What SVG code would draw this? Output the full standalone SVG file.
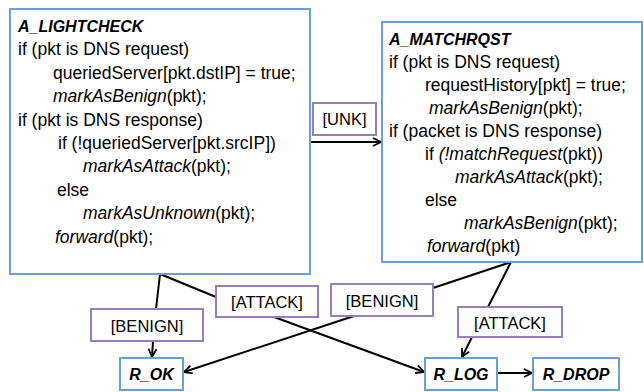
<svg xmlns="http://www.w3.org/2000/svg" width="644" height="392" viewBox="0 0 644 392">
<style>
  .box { fill: #ffffff; stroke: #6a9fd6; stroke-width: 2; }
  .lbl { fill: #ffffff; stroke: #9a7dbd; stroke-width: 2; }
  .code { font-family: "Liberation Sans", Arial, sans-serif; font-size: 17.5px; fill: #000; }
  .title { font-family: "Liberation Sans", Arial, sans-serif; font-size: 16px; font-weight: bold; font-style: italic; fill: #000; }
  .ltxt { font-family: "Liberation Sans", Arial, sans-serif; font-size: 16.5px; fill: #000; text-anchor: middle; }
  .ntxt { font-family: "Liberation Sans", Arial, sans-serif; font-size: 16px; font-weight: bold; font-style: italic; fill: #000; text-anchor: middle; }
  .i { font-style: italic; }
  .edge { stroke: #000; stroke-width: 2; fill: none; }
</style>
<defs>
  <marker id="arr" viewBox="0 0 10 10" refX="9" refY="5" markerWidth="10" markerHeight="10" markerUnits="userSpaceOnUse" orient="auto">
    <path d="M1,1 L9,5 L1,9" fill="none" stroke="#000" stroke-width="1.8"/>
  </marker>
</defs>

<g id="connectors">
  <line class="edge" x1="310" y1="142" x2="381" y2="142" marker-end="url(#arr)"/>
  <line class="edge" x1="160" y1="274" x2="156" y2="309"/>
  <line class="edge" x1="153" y1="341" x2="152" y2="357" marker-end="url(#arr)"/>
  <line class="edge" x1="160" y1="274" x2="216" y2="297"/>
  <line class="edge" x1="274" y1="317" x2="424" y2="372" marker-end="url(#arr)"/>
  <line class="edge" x1="511" y1="262" x2="433" y2="288"/>
  <line class="edge" x1="354" y1="316" x2="184" y2="372" marker-end="url(#arr)"/>
  <line class="edge" x1="511" y1="262" x2="488" y2="307"/>
  <line class="edge" x1="472" y1="337" x2="462" y2="357" marker-end="url(#arr)"/>
  <line class="edge" x1="497" y1="373" x2="532" y2="373" marker-end="url(#arr)"/>
</g>

<g id="A_LIGHTCHECK">
  <rect class="box" x="10" y="9" width="300" height="265"/>
  <text class="title" x="18" y="32">A_LIGHTCHECK</text>
  <text class="code" x="18" y="55.4">if (pkt is DNS request)</text>
  <text class="code" x="53" y="78.8">queriedServer[pkt.dstIP] = true;</text>
  <text class="code" x="53" y="102.2"><tspan class="i">markAsBenign</tspan>(pkt);</text>
  <text class="code" x="18" y="125.6">if (pkt is DNS response)</text>
  <text class="code" x="58" y="149">if (!queriedServer[pkt.srcIP])</text>
  <text class="code" x="83" y="172.4"><tspan class="i">markAsAttack</tspan>(pkt);</text>
  <text class="code" x="57" y="195.8">else</text>
  <text class="code" x="83" y="219.2"><tspan class="i">markAsUnknown</tspan>(pkt);</text>
  <text class="code" x="55" y="242.6"><tspan class="i">forward</tspan>(pkt);</text>
</g>

<g id="A_MATCHRQST">
  <rect class="box" x="382" y="22" width="260" height="240"/>
  <text class="title" x="389" y="45">A_MATCHRQST</text>
  <text class="code" x="389" y="68">if (pkt is DNS request)</text>
  <text class="code" x="425" y="91">requestHistory[pkt] = true;</text>
  <text class="code" x="429" y="114"><tspan class="i">markAsBenign</tspan>(pkt);</text>
  <text class="code" x="389" y="137">if (packet is DNS response)</text>
  <text class="code" x="425" y="160">if <tspan class="i">(!matchRequest</tspan>(pkt))</text>
  <text class="code" x="455" y="183"><tspan class="i">markAsAttack</tspan>(pkt);</text>
  <text class="code" x="425" y="206">else</text>
  <text class="code" x="464" y="229"><tspan class="i">markAsBenign</tspan>(pkt);</text>
  <text class="code" x="427" y="252"><tspan class="i">forward</tspan>(pkt)</text>
</g>

<g id="label_UNK">
  <rect class="lbl" x="313" y="103" width="63" height="32"/>
  <text class="ltxt" x="344.5" y="125">[UNK]</text>
</g>
<g id="label_BENIGN_1">
  <rect class="lbl" x="91" y="309" width="112" height="32"/>
  <text class="ltxt" x="147" y="331.5">[BENIGN]</text>
</g>
<g id="label_ATTACK_1">
  <rect class="lbl" x="216" y="286" width="102" height="31"/>
  <text class="ltxt" x="267" y="308">[ATTACK]</text>
</g>
<g id="label_BENIGN_2">
  <rect class="lbl" x="331" y="284" width="102" height="32"/>
  <text class="ltxt" x="382" y="306.5">[BENIGN]</text>
</g>
<g id="label_ATTACK_2">
  <rect class="lbl" x="458" y="307" width="104" height="30"/>
  <text class="ltxt" x="510" y="328.5">[ATTACK]</text>
</g>

<g id="R_OK">
  <rect class="box" x="120" y="358" width="63" height="32"/>
  <text class="ntxt" x="151.5" y="380">R_OK</text>
</g>
<g id="R_LOG">
  <rect class="box" x="425" y="358" width="72" height="32"/>
  <text class="ntxt" x="461" y="380">R_LOG</text>
</g>
<g id="R_DROP">
  <rect class="box" x="533" y="358" width="86" height="32"/>
  <text class="ntxt" x="576" y="380">R_DROP</text>
</g>
</svg>
